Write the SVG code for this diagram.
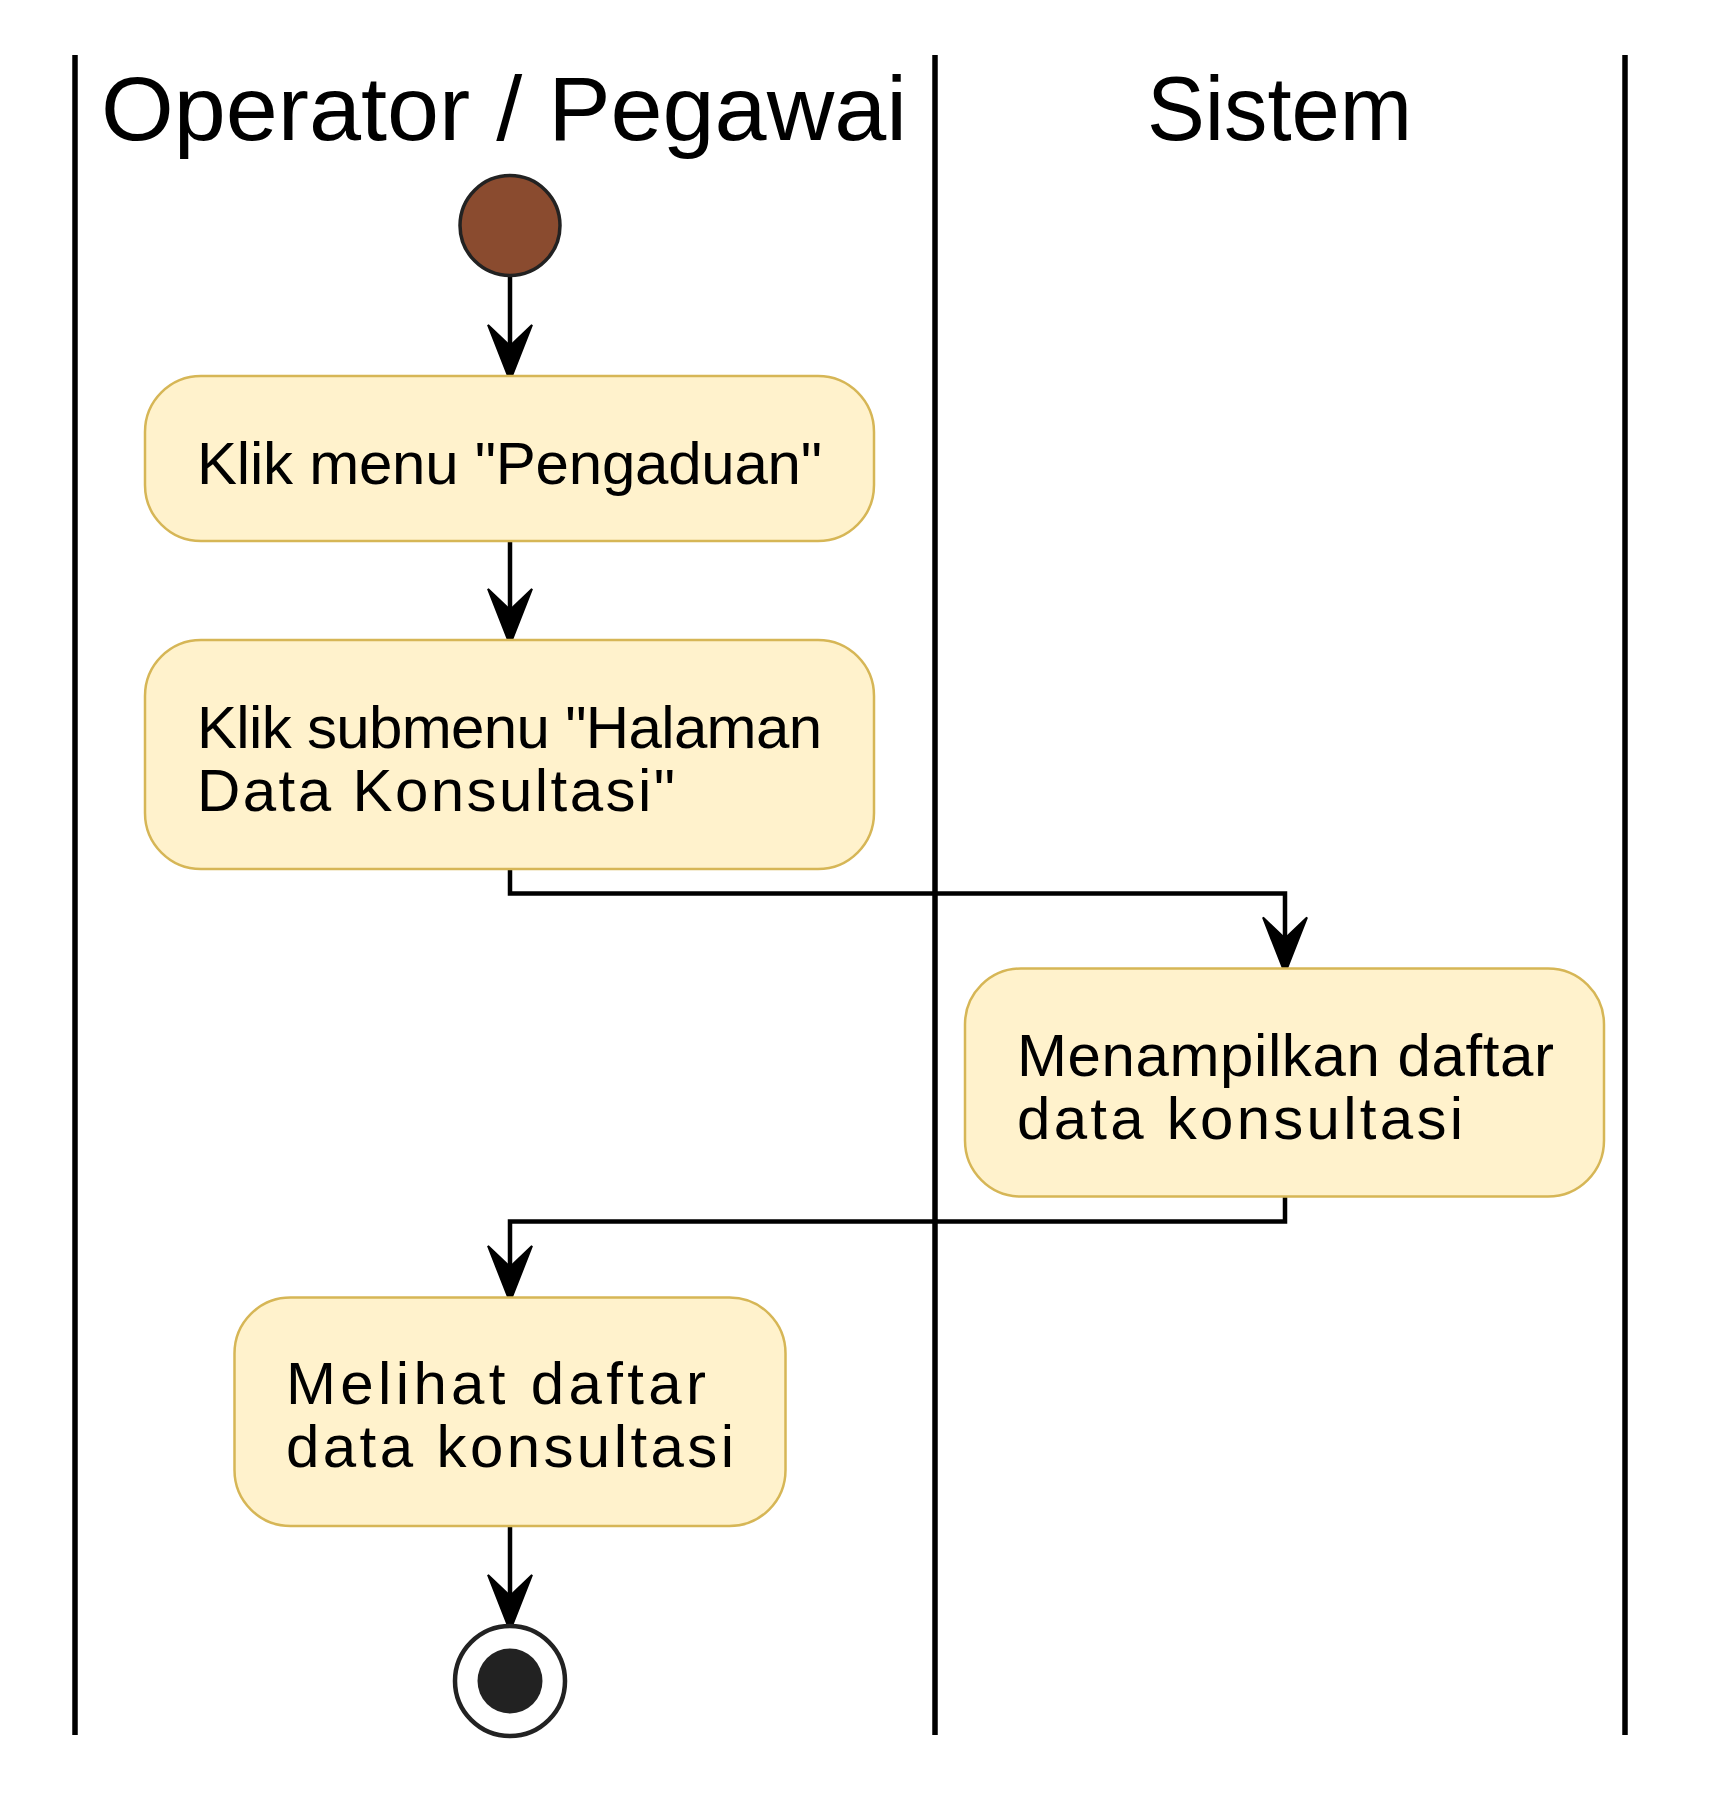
<svg xmlns="http://www.w3.org/2000/svg" width="1730" height="1795" viewBox="0 0 1730 1795">
<style>
  .lane { stroke:#000; stroke-width:5.5; fill:none; }
  .hdr { font-family:"Liberation Sans", Arial, sans-serif; font-size:91px; fill:#000; }
  .act { fill:#FFF2CC; stroke:#D6B656; stroke-width:2.5; }
  .lbl { font-family:"Liberation Sans", Arial, sans-serif; font-size:60px; fill:#000; }
  .edge { stroke:#000; stroke-width:4.5; fill:none; }
</style>
<defs>
  <marker id="arr" markerUnits="userSpaceOnUse" viewBox="-2 -2 60 48" markerWidth="60" markerHeight="48" refX="21" refY="22" orient="auto">
    <path d="M0,0 L56,22 L0,44 L21,22 Z" fill="#000" stroke="#000" stroke-width="2" stroke-linejoin="miter"/>
  </marker>
</defs>
<rect width="1730" height="1795" fill="#fff"/>
<g id="swimlanes">
  <line class="lane" x1="75" y1="55" x2="75" y2="1735"/>
  <line class="lane" x1="935" y1="55" x2="935" y2="1735"/>
  <line class="lane" x1="1625" y1="55" x2="1625" y2="1735"/>
  <text class="hdr" x="101" y="140" textLength="806" lengthAdjust="spacingAndGlyphs">Operator / Pegawai</text>
  <text class="hdr" x="1147" y="140" textLength="265" lengthAdjust="spacingAndGlyphs">Sistem</text>
</g>
<g id="connectors">
  <path class="edge" d="M510,277 V346" marker-end="url(#arr)"/>
  <path class="edge" d="M510,541 V610" marker-end="url(#arr)"/>
  <path class="edge" d="M510,869 V893.5 H1285 V938.5" marker-end="url(#arr)"/>
  <path class="edge" d="M1285,1196.5 V1221.5 H510 V1267" marker-end="url(#arr)"/>
  <path class="edge" d="M510,1526 V1596" marker-end="url(#arr)"/>
</g>
<g id="start">
  <circle cx="510" cy="225.5" r="50" fill="#8A4B2F" stroke="#222" stroke-width="3.5"/>
</g>
<g id="act1">
  <rect class="act" x="145" y="376" width="729" height="165" rx="56" ry="56"/>
  <text class="lbl" x="197" y="483.5" textLength="625" lengthAdjust="spacing">Klik menu "Pengaduan"</text>
</g>
<g id="act2">
  <rect class="act" x="145" y="640" width="729" height="229" rx="56" ry="56"/>
  <text class="lbl" x="197" y="747.5" textLength="625" lengthAdjust="spacing">Klik submenu "Halaman</text>
  <text class="lbl" x="197" y="811" textLength="478" lengthAdjust="spacing">Data Konsultasi"</text>
</g>
<g id="act3">
  <rect class="act" x="965" y="968.5" width="639" height="228" rx="56" ry="56"/>
  <text class="lbl" x="1017" y="1076" textLength="537" lengthAdjust="spacing">Menampilkan daftar</text>
  <text class="lbl" x="1017" y="1139" textLength="446" lengthAdjust="spacing">data konsultasi</text>
</g>
<g id="act4">
  <rect class="act" x="234.5" y="1297.5" width="551" height="228.5" rx="56" ry="56"/>
  <text class="lbl" x="286" y="1403.5" textLength="420" lengthAdjust="spacing">Melihat daftar</text>
  <text class="lbl" x="286" y="1467" textLength="448" lengthAdjust="spacing">data konsultasi</text>
</g>
<g id="end">
  <circle cx="510" cy="1681" r="55" fill="#fff" stroke="#222" stroke-width="4.5"/>
  <circle cx="510" cy="1681" r="32.5" fill="#222"/>
</g>
</svg>
